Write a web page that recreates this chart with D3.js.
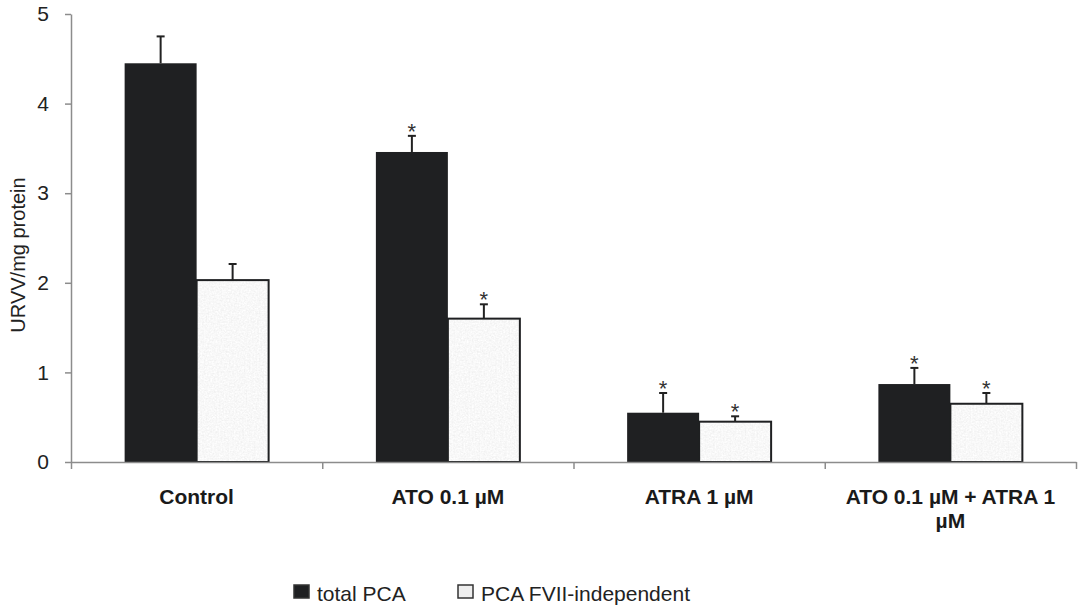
<!DOCTYPE html>
<html>
<head>
<meta charset="utf-8">
<script src="https://cdn.jsdelivr.net/npm/d3@7"></script>
<style>
  body { margin: 0; background: #fff; }
  svg { display: block; font-family: "Liberation Sans", Arial, sans-serif; }
</style>
</head>
<body>
<svg width="1081" height="609"></svg>
<script>
// data
const categories = ["Control", "ATO 0.1 µM", "ATRA 1 µM", "ATO 0.1 µM + ATRA 1 µM"];
const seriesNames = ["total PCA", "PCA FVII-independent"];
const totalPCA = [4.45, 3.46, 0.55, 0.87];
const totalErr = [0.30, 0.18, 0.22, 0.18];
const fviiIndep = [2.03, 1.60, 0.45, 0.65];
const fviiErr = [0.18, 0.16, 0.06, 0.12];
const totalSig = [false, true, true, true];
const fviiSig = [false, true, true, true];
const yTicks = [0, 1, 2, 3, 4, 5];

const svg = d3.select("svg");
const plotLeft = 71, plotRight = 1076, plotTop = 14, plotBottom = 462;

// noise texture for the light bars
const defs = svg.append("defs");
const f = defs.append("filter").attr("id", "noise").attr("x", 0).attr("y", 0).attr("width", 1).attr("height", 1);
f.append("feTurbulence").attr("type", "fractalNoise").attr("baseFrequency", 0.6).attr("numOctaves", 2).attr("seed", 3).attr("result", "n");
f.append("feColorMatrix").attr("in", "n").attr("type", "saturate").attr("values", 0).attr("result", "g");
const ct = f.append("feComponentTransfer").attr("in", "g").attr("result", "c");
["feFuncR", "feFuncG", "feFuncB"].forEach((k) => ct.append(k).attr("type", "linear").attr("slope", 0.28).attr("intercept", 0.8));
ct.append("feFuncA").attr("type", "linear").attr("slope", 0).attr("intercept", 1);
f.append("feComposite").attr("in", "c").attr("in2", "SourceGraphic").attr("operator", "in");

const x = d3.scaleBand().domain(categories).range([plotLeft, plotRight]).padding(0);
const xs = d3.scaleBand().domain(seriesNames).range([0, x.bandwidth()]).paddingInner(0).paddingOuter(0.745);
const y = d3.scaleLinear().domain([0, 5]).range([plotBottom, plotTop]);

const rows = categories.map((c, i) => ({
  cat: c,
  vals: [
    { s: seriesNames[0], v: totalPCA[i], e: totalErr[i], sig: totalSig[i] },
    { s: seriesNames[1], v: fviiIndep[i], e: fviiErr[i], sig: fviiSig[i] },
  ],
}));

// bars
const g = svg.append("g");
const groups = g.selectAll(".grp").data(rows).join("g").attr("class", "grp")
  .attr("transform", (d) => "translate(" + x(d.cat) + ",0)");

groups.selectAll(".bar").data((d) => d.vals).join("rect")
  .attr("class", "bar")
  .attr("x", (d) => xs(d.s))
  .attr("y", (d) => y(d.v))
  .attr("width", xs.bandwidth())
  .attr("height", (d) => plotBottom - y(d.v))
  .attr("fill", (d, i) => (i === 0 ? "#1f2022" : "#eee"))
  .attr("filter", (d, i) => (i === 0 ? null : "url(#noise)"));

groups.selectAll(".outline").data((d) => d.vals.filter((v) => v.s === seriesNames[1])).join("rect")
  .attr("class", "outline")
  .attr("x", (d) => xs(d.s))
  .attr("y", (d) => y(d.v))
  .attr("width", xs.bandwidth())
  .attr("height", (d) => plotBottom - y(d.v))
  .attr("fill", "none")
  .attr("stroke", "#1f2022")
  .attr("stroke-width", 2);

// error bars
const eb = groups.selectAll(".err").data((d) => d.vals).join("g").attr("class", "err")
  .attr("stroke", "#222").attr("stroke-width", 2);
eb.append("line")
  .attr("x1", (d) => xs(d.s) + xs.bandwidth() / 2)
  .attr("x2", (d) => xs(d.s) + xs.bandwidth() / 2)
  .attr("y1", (d) => y(d.v))
  .attr("y2", (d) => y(d.v + d.e));
eb.append("line")
  .attr("x1", (d) => xs(d.s) + xs.bandwidth() / 2 - 4)
  .attr("x2", (d) => xs(d.s) + xs.bandwidth() / 2 + 4)
  .attr("y1", (d) => y(d.v + d.e))
  .attr("y2", (d) => y(d.v + d.e));

// significance stars
groups.selectAll(".star").data((d) => d.vals.filter((v) => v.sig)).join("text")
  .attr("class", "star")
  .attr("x", (d) => xs(d.s) + xs.bandwidth() / 2)
  .attr("y", (d) => y(d.v + d.e) + 3)
  .attr("text-anchor", "middle")
  .attr("font-size", 22)
  .attr("fill", "#333")
  .text("*");

// y axis
const yAxis = svg.append("g").attr("transform", "translate(" + plotLeft + ",0)")
  .call(d3.axisLeft(y).tickValues(yTicks).tickFormat(d3.format("d")).tickSize(6).tickSizeOuter(0).tickPadding(16));
yAxis.selectAll("line,path").attr("stroke", "#8c8c8c").attr("stroke-width", 1.5);
yAxis.selectAll("text").attr("font-size", 21).attr("fill", "#222").attr("font-family", "Liberation Sans, Arial, sans-serif");

// x axis: ticks at category boundaries
const xb = d3.scaleLinear().domain([0, categories.length]).range([plotLeft, plotRight]);
const xAxis = svg.append("g").attr("transform", "translate(0," + plotBottom + ")")
  .call(d3.axisBottom(xb).ticks(categories.length).tickFormat("").tickSize(7).tickSizeOuter(0));
xAxis.selectAll("line,path").attr("stroke", "#8c8c8c").attr("stroke-width", 1.5);

// category labels (wrapped)
const lbl = svg.append("g").selectAll("text").data(categories).join("text")
  .attr("x", (d) => x(d) + x.bandwidth() / 2)
  .attr("y", 504)
  .attr("text-anchor", "middle")
  .attr("font-size", 21)
  .attr("font-weight", "bold")
  .attr("fill", "#1a1a1a");
lbl.each(function (d) {
  const t = d3.select(this);
  const words = d.split(" ");
  let line = [];
  let tspan = t.append("tspan").attr("x", x(d) + x.bandwidth() / 2).attr("dy", 0);
  words.forEach((w) => {
    line.push(w);
    tspan.text(line.join(" "));
    if (tspan.node().getComputedTextLength() > 232 && line.length > 1) {
      line.pop();
      tspan.text(line.join(" "));
      line = [w];
      tspan = t.append("tspan").attr("x", x(d) + x.bandwidth() / 2).attr("dy", 24).text(w);
    }
  });
});

// y title
svg.append("text")
  .attr("transform", "translate(25,255) rotate(-90)")
  .attr("text-anchor", "middle")
  .attr("font-size", 20)
  .attr("fill", "#222")
  .text("URVV/mg protein");

// legend
const legX = [294, 458];
const leg = svg.append("g").attr("transform", "translate(0,585)");
const legItems = leg.selectAll("g").data(seriesNames).join("g")
  .attr("transform", (d, i) => "translate(" + legX[i] + ",0)");
legItems.append("rect")
  .attr("width", 15).attr("height", 13)
  .attr("fill", (d, i) => (i === 0 ? "#1f2022" : "#eee"))
  .attr("stroke", "#333").attr("stroke-width", 1.5);
legItems.append("text")
  .attr("x", 23).attr("y", 16)
  .attr("font-size", 21)
  .attr("fill", "#222")
  .text((d) => d);
</script>
</body>
</html>
